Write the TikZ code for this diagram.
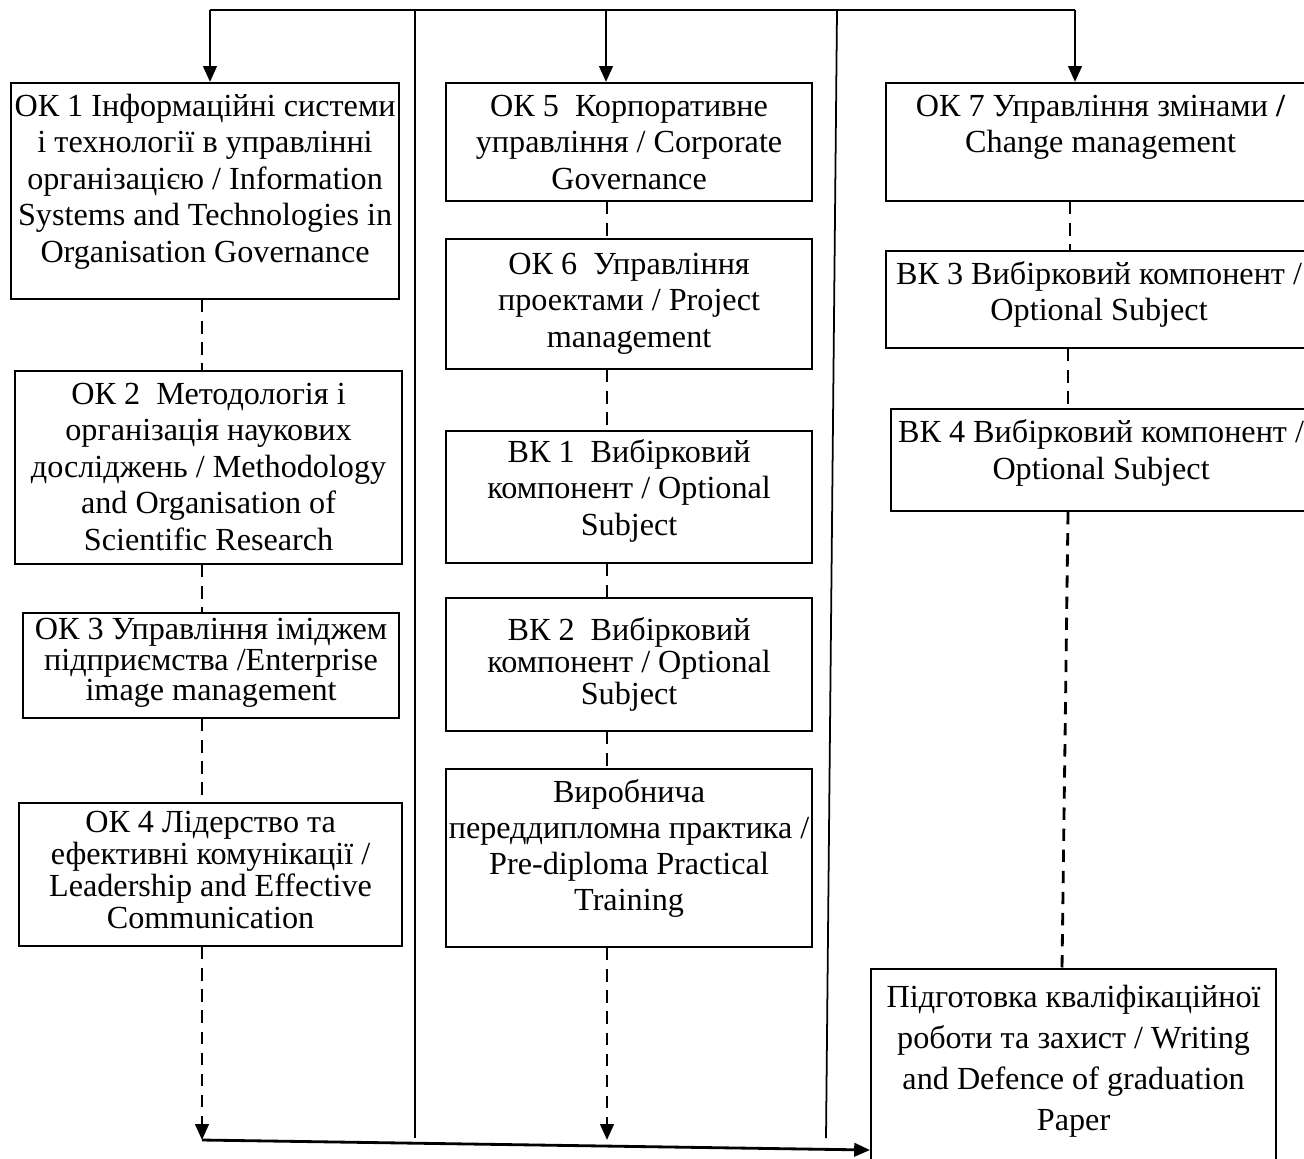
\documentclass[tikz,border=0pt]{standalone}
\usepackage{fontspec}
\setmainfont{Liberation Serif}
\usetikzlibrary{arrows.meta,calc}
% box: name, x1, y1, x2, y2, first baseline (pt), line skip (pt), text
\newcommand\subjbox[8]{%
  \pgfmathsetmacro\bw{(#4-#2)*0.01}%
  \pgfmathsetmacro\bh{(#5-#3)*0.01}%
  \node[subj] (#1) at (#2,#3) {\makebox[\bw cm]{\parbox[c][\bh cm][t]{\dimexpr\bw cm+1cm\relax}{\fontsize{9.15pt}{#7pt}\selectfont\centering\rule{0pt}{#6pt}#8}}};}

\tikzset{
  subj/.style={draw, line width=0.6pt, anchor=north west, inner sep=0pt},
  link/.style={line width=0.8pt, dash pattern=on 3.5pt off 2.5pt},
  feed/.style={line width=0.8pt, -{Triangle[length=4.5pt,width=3.8pt]}},
  dfeed/.style={link, -{Triangle[length=4.5pt,width=3.8pt]}},
  divider/.style={line width=0.5pt}
}

\begin{document}
\begin{tikzpicture}[x=0.01cm, y=-0.01cm]
  \useasboundingbox (0,0) rectangle (1304,1158);

  % spines
  \coordinate (ltop) at (210,10);
  \coordinate (mtop) at (606,10);
  \coordinate (rtop) at (1075,10);
  \coordinate (lline) at (202,0);
  \coordinate (mline) at (607,0);
  \coordinate (rline) at (1068,0);
  \coordinate (join) at (202,1140);

  % left column
  \subjbox{ok1}{10}{82}{398}{298}{9.4}{10.4}{ОК 1 Інформаційні системи\\ і технології в управлінні\\ організацією / Information\\ Systems and Technologies in\\ Organisation Governance}
  \subjbox{ok2}{14}{370}{401}{563}{9.4}{10.4}{ОК 2~ Методологія і\\ організація наукових\\ досліджень / Methodology\\ and Organisation of\\ Scientific Research}
  \subjbox{ok3}{22}{612}{398}{717}{7.4}{8.8}{ОК 3 Управління іміджем\\ підприємства /Enterprise\\ image management}
  \subjbox{ok4}{18}{802}{401}{945}{8.3}{9.1}{ОК 4 Лідерство та\\ ефективні комунікації /\\ Leadership and Effective\\ Communication}

  % middle column
  \subjbox{ok5}{445}{82}{811}{200}{9.4}{10.4}{ОК 5~ Корпоративне\\ управління / Corporate\\ Governance}
  \subjbox{ok6}{445}{238}{811}{368}{10}{10.4}{ОК 6~ Управління\\ проектами / Project\\ management}
  \subjbox{bk1}{445}{430}{811}{562}{8.8}{10.4}{ВК 1~ Вибірковий\\ компонент / Optional\\ Subject}
  \subjbox{bk2}{445}{597}{811}{730}{12}{9.1}{ВК 2~ Вибірковий\\ компонент / Optional\\ Subject}
  \subjbox{prac}{445}{768}{811}{946}{9.4}{10.3}{Виробнича\\ переддипломна практика /\\ Pre-diploma Practical\\ Training}

  % right column
  \subjbox{ok7}{885}{82}{1314}{200}{9.4}{10.4}{ОК 7 Управління змінами \textbf{/}\\ Change management}
  \subjbox{bk3}{885}{250}{1311}{347}{9.4}{10.3}{ВК 3 Вибірковий компонент /\\ Optional Subject}
  \subjbox{bk4}{890}{408}{1310}{510}{9.4}{10.5}{ВК 4 Вибірковий компонент /\\ Optional Subject}
  \subjbox{prep}{870}{968}{1275}{1172}{10.8}{11.7}{Підготовка кваліфікаційної\\ роботи та захист / Writing\\ and Defence of graduation\\ Paper}

  % top feed
  \draw[line width=0.8pt] (ltop) -- (rtop);
  \draw[feed] (ltop) -- (ltop |- ok1.north);
  \draw[feed] (mtop) -- (mtop |- ok5.north);
  \draw[feed] (rtop) -- (rtop |- ok7.north);

  % dividers
  \draw[divider] (415,10) -- (415,1138);
  \draw[divider] (837,10) -- (826,1138);

  % links
  \draw[link] (lline |- ok1.south) -- (lline |- ok2.north);
  \draw[link] (lline |- ok2.south) -- (lline |- ok3.north);
  \draw[link] (lline |- ok3.south) -- (lline |- ok4.north);
  \draw[link] (mline |- ok5.south) -- (mline |- ok6.north);
  \draw[link] (mline |- ok6.south) -- (mline |- bk1.north);
  \draw[link] (mline |- bk1.south) -- (mline |- bk2.north);
  \draw[link] (mline |- bk2.south) -- (mline |- prac.north);
  \draw[link] ($(rline |- ok7.south)+(2,0)$) -- ($(rline |- bk3.north)+(2,0)$);
  \draw[link] (rline |- bk3.south) -- (rline |- bk4.north);
  \draw[link] (rline |- bk4.south) -- ($(rline |- prep.north)+(-6,0)$);

  % bottom feed
  \draw[dfeed] (lline |- ok4.south) -- (join);
  \draw[dfeed] (mline |- prac.south) -- (mline |- join);
  \draw[feed] (join) -- ($(prep.north west)+(0,182)$);
\end{tikzpicture}
\end{document}
